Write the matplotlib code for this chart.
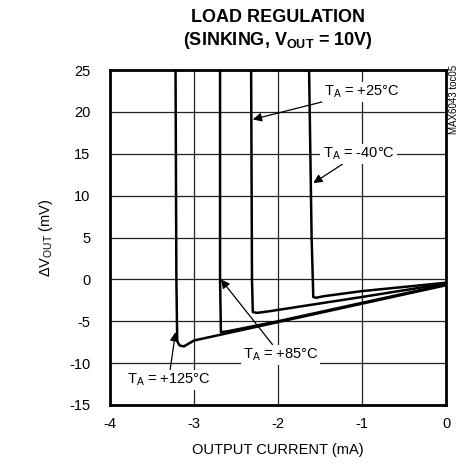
import matplotlib
matplotlib.use('Agg')
import matplotlib.pyplot as plt
import numpy as np

plt.rcParams['font.family'] = ['Liberation Sans', 'DejaVu Sans']
plt.rcParams['mathtext.fontset'] = 'custom'
plt.rcParams['mathtext.rm'] = 'Liberation Sans'
plt.rcParams['mathtext.it'] = 'Liberation Sans'
plt.rcParams['mathtext.bf'] = 'Liberation Sans:bold'
plt.rcParams['axes.unicode_minus'] = False

# curve data (current mA, delta Vout mV)
x_125 = [-3.22, -3.21, -3.20, -3.17, -3.12, -3.00, -2.0, -1.0, 0.0]
y_125 = [25.0, 0.0, -7.4, -7.9, -8.0, -7.3, -5.1, -2.9, -0.7]
x_85 = [-2.69, -2.69, -2.68, -2.6, -2.0, -1.0, 0.0]
y_85 = [25.0, 0.0, -6.3, -6.2, -5.0, -2.8, -0.6]
x_25 = [-2.32, -2.31, -2.30, -2.25, -2.1, -1.0, 0.0]
y_25 = [25.0, 0.0, -3.9, -4.0, -3.8, -2.1, -0.5]
x_m40 = [-1.63, -1.60, -1.58, -1.55, -1.45, -1.0, 0.0]
y_m40 = [25.0, 5.0, -2.1, -2.2, -2.0, -1.4, -0.4]

xticks = [-4, -3, -2, -1, 0]
yticks = [25, 20, 15, 10, 5, 0, -5, -10, -15]

fig = plt.figure(figsize=(4.59, 4.70), dpi=100)
ax = fig.add_axes([0.2397, 0.1383, 0.732, 0.7127])

for xs, ys in [(x_125, y_125), (x_85, y_85), (x_25, y_25), (x_m40, y_m40)]:
    ax.plot(xs, ys, color='k', lw=1.8, solid_joinstyle='round', zorder=3)

ax.set_xlim(-4, 0)
ax.set_ylim(-15, 25)
ax.set_xticks(xticks)
ax.set_yticks(yticks)
ax.tick_params(length=0, labelsize=10.5)
ax.tick_params(axis='x', pad=9)
ax.tick_params(axis='y', pad=14)
ax.grid(True, color='#222222', lw=0.9)
for s in ax.spines.values():
    s.set_linewidth(2)

ax.set_xlabel('OUTPUT CURRENT (mA)', fontsize=10.5, labelpad=8)
ax.set_ylabel(r'$\Delta$V$_{\mathrm{OUT}}$ (mV)', fontsize=10.5, labelpad=10)

fig.text(0.606, 0.963, 'LOAD REGULATION', ha='center', va='center',
         fontsize=13, fontweight='bold')
fig.text(0.606, 0.913, r'(SINKING, $\mathbf{V_{OUT}}$ = 10V)', ha='center',
         va='center', fontsize=13, fontweight='bold')

fig.text(0.99, 0.862, 'MAX6043 toc05', rotation=90, ha='center', va='top',
         fontsize=7)

box = dict(facecolor='white', edgecolor='none', pad=1.5)
arrow = dict(arrowstyle='-|>', color='k', lw=0.9, mutation_scale=13,
             shrinkA=0, shrinkB=0)
ax.annotate(r'T$_\mathrm{A}$ = +25°C', xy=(-2.30, 19.1), xytext=(-1.45, 22.4),
            fontsize=10.5, va='center', ha='left', bbox=box,
            arrowprops=arrow, zorder=5)
ax.annotate(r'T$_\mathrm{A}$ = -40°C', xy=(-1.58, 11.5), xytext=(-1.47, 15.0),
            fontsize=10.5, va='center', ha='left', bbox=box,
            arrowprops=arrow, zorder=5)
ax.annotate(r'T$_\mathrm{A}$ = +85°C', xy=(-2.68, 0.0), xytext=(-2.42, -9.0),
            fontsize=10.5, va='center', ha='left', bbox=box,
            arrowprops=arrow, zorder=5)
ax.annotate(r'T$_\mathrm{A}$ = +125°C', xy=(-3.22, -6.3), xytext=(-3.8, -12.0),
            fontsize=10.5, va='center', ha='left', bbox=box,
            arrowprops=arrow, zorder=5)

fig.savefig('out.png', dpi=100)
